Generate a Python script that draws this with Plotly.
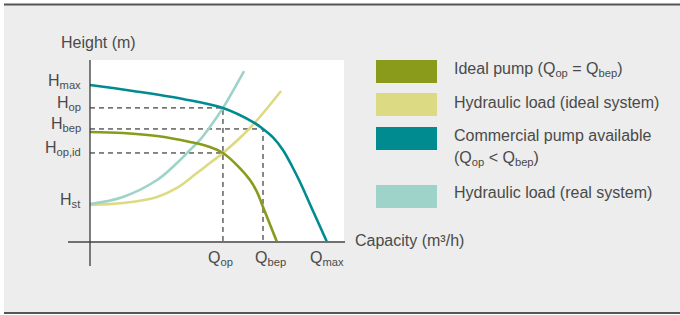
import plotly.graph_objects as go

# ---- data (arbitrary units) ----
Q_MAX = 10.0
Q_OP = 5.61
Q_BEP = 7.30
H_MAX = 10.0
H_OP = 8.54
H_BEP = 7.20
H_OPID = 5.67
H_ST = 2.42

commercial_q = [0.0, 1.81, 3.92, 5.61, 6.88, 7.30, 7.72, 8.14, 8.52, 8.86, 9.41, 10.0]
commercial_h = [10.0, 9.62, 9.11, 8.54, 7.64, 7.20, 6.66, 5.86, 4.84, 3.82, 1.97, 0.0]

ideal_q = [0.0, 1.39, 2.83, 4.22, 5.06, 5.61, 6.20, 6.75, 7.05, 7.30, 7.89]
ideal_h = [7.01, 6.94, 6.75, 6.37, 6.05, 5.67, 4.90, 3.95, 3.18, 2.23, 0.0]

load_ideal_q = [0.0, 1.39, 2.83, 3.67, 4.51, 5.06, 5.61, 6.75, 8.06]
load_ideal_h = [2.36, 2.48, 2.87, 3.44, 4.39, 5.03, 5.67, 7.26, 9.62]

load_real_q = [0.0, 1.39, 2.83, 3.67, 4.22, 4.64, 5.06, 5.61, 6.50]
load_real_h = [2.42, 2.87, 3.95, 5.03, 5.86, 6.50, 7.32, 8.54, 10.89]

y_labels = ["H<sub>max</sub>", "H<sub>op</sub>", "H<sub>bep</sub>", "H<sub>op,id</sub>", "H<sub>st</sub>"]
y_label_vals = [H_MAX, H_OP, H_BEP, H_OPID, H_ST]
x_labels = ["Q<sub>op</sub>", "Q<sub>bep</sub>", "Q<sub>max</sub>"]
x_label_vals = [Q_OP, Q_BEP, Q_MAX]

legend_names = ["Ideal pump (Q<sub>op</sub> = Q<sub>bep</sub>)",
                "Hydraulic load (ideal system)",
                "Commercial pump available",
                "Hydraulic load (real system)"]

C_OLIVE = "#8a9a1b"
C_YELLOW = "#dcdb83"
C_TEAL = "#008b90"
C_LTEAL = "#9ed3c9"
C_BG = "#ecedec"
C_TEXT = "#4a4a4a"
FONT = "Liberation Sans"

W, H = 680, 315
L, R, T, B = 60, 350, 55, 270


def pxx(p):
    return (p - L) / (R - L)


def pxy(p):
    return (B - p) / (B - T)


fig = go.Figure()

dash = "5px,4px"
# dashed guide lines
fig.add_trace(go.Scatter(x=[0, Q_OP, Q_OP], y=[H_OP, H_OP, 0], mode="lines",
                         line=dict(color="#111111", width=1, dash=dash), hoverinfo="skip"))
fig.add_trace(go.Scatter(x=[0, Q_BEP, Q_BEP], y=[H_BEP, H_BEP, 0], mode="lines",
                         line=dict(color="#111111", width=1, dash=dash), hoverinfo="skip"))
fig.add_trace(go.Scatter(x=[0, Q_OP], y=[H_OPID, H_OPID], mode="lines",
                         line=dict(color="#111111", width=1, dash=dash), hoverinfo="skip"))

for xs, ys, c in [(load_ideal_q, load_ideal_h, C_YELLOW),
                  (load_real_q, load_real_h, C_LTEAL),
                  (ideal_q, ideal_h, C_OLIVE),
                  (commercial_q, commercial_h, C_TEAL)]:
    fig.add_trace(go.Scatter(x=xs, y=ys, mode="lines",
                             line=dict(color=c, width=2.6, shape="spline", smoothing=1.0),
                             hoverinfo="skip"))

sx = (327 - 90) / Q_MAX
sy = (242 - 85) / H_MAX
xr = [(L - 90) / sx, (R - 90) / sx]
yr = [(242 - B) / sy, (242 - T) / sy]

shapes = []
# page background band
shapes.append(dict(type="rect", xref="paper", yref="paper", x0=pxx(4), x1=pxx(681),
                   y0=pxy(312), y1=pxy(5), fillcolor=C_BG, line=dict(width=0), layer="below"))
shapes.append(dict(type="line", xref="paper", yref="paper", x0=pxx(4), x1=pxx(681),
                   y0=pxy(4.5), y1=pxy(4.5), line=dict(color="#555555", width=2), layer="below"))
shapes.append(dict(type="line", xref="paper", yref="paper", x0=pxx(4), x1=pxx(681),
                   y0=pxy(313), y1=pxy(313), line=dict(color="#555555", width=2), layer="below"))
# white chart area
shapes.append(dict(type="rect", xref="x", yref="y", x0=0, x1=(344 - 90) / sx,
                   y0=0, y1=(242 - 60) / sy, fillcolor="white", line=dict(width=0), layer="below"))
# axes
shapes.append(dict(type="line", xref="x", yref="y", x0=(68 - 90) / sx, x1=(345 - 90) / sx,
                   y0=0, y1=0, line=dict(color="#707070", width=2)))
shapes.append(dict(type="line", xref="x", yref="y", x0=0, x1=0,
                   y0=(242 - 266) / sy, y1=(242 - 60) / sy, line=dict(color="#3a3a3a", width=1.3)))

# legend swatches
sw = [(60, 83, C_OLIVE), (93, 116, C_YELLOW), (127, 150, C_TEAL), (185, 208, C_LTEAL)]
for y0, y1, c in sw:
    shapes.append(dict(type="rect", xref="paper", yref="paper", x0=pxx(376), x1=pxx(437),
                       y0=pxy(y1), y1=pxy(y0), fillcolor=c, line=dict(width=0)))

ann = []
fnt = dict(family=FONT, size=16, color=C_TEXT)
for txt, v in zip(y_labels, y_label_vals):
    ann.append(dict(text=txt, xref="paper", yref="y", x=pxx(83), y=v, xanchor="right",
                    yanchor="middle", yshift=4, showarrow=False, font=fnt))
for txt, v, xs in zip(x_labels, x_label_vals, [-2, 7, 0]):
    ann.append(dict(text=txt, xref="x", yref="paper", x=v, y=pxy(247), xanchor="center",
                    yanchor="top", xshift=xs, showarrow=False, font=fnt))
ann.append(dict(text="Height (m)", xref="paper", yref="paper", x=pxx(59), y=pxy(43),
                xanchor="left", yanchor="middle", showarrow=False, font=fnt))
ann.append(dict(text="Capacity (m³/h)", xref="paper", yref="paper", x=pxx(353), y=pxy(240),
                xanchor="left", yanchor="middle", showarrow=False, font=fnt))
leg_y = [69, 102, 135, 192]
for txt, yy in zip(legend_names, leg_y):
    ann.append(dict(text=txt, xref="paper", yref="paper", x=pxx(452), y=pxy(yy),
                    xanchor="left", yanchor="middle", showarrow=False, font=fnt))
ann.append(dict(text="(Q<sub>op</sub> &lt; Q<sub>bep</sub>)", xref="paper", yref="paper",
                x=pxx(452), y=pxy(158), xanchor="left", yanchor="middle", showarrow=False, font=fnt))

fig.update_layout(
    width=W, height=H, autosize=False,
    margin=dict(l=L, r=W - R, t=T, b=H - B, pad=0),
    paper_bgcolor="white", plot_bgcolor="rgba(0,0,0,0)",
    showlegend=False,
    xaxis=dict(range=xr, visible=False, fixedrange=True),
    yaxis=dict(range=yr, visible=False, fixedrange=True),
    shapes=shapes, annotations=ann,
)

fig.write_html("out.html", config={"displayModeBar": False},
               post_script="document.body.style.margin='0';document.body.style.overflow='hidden';")
